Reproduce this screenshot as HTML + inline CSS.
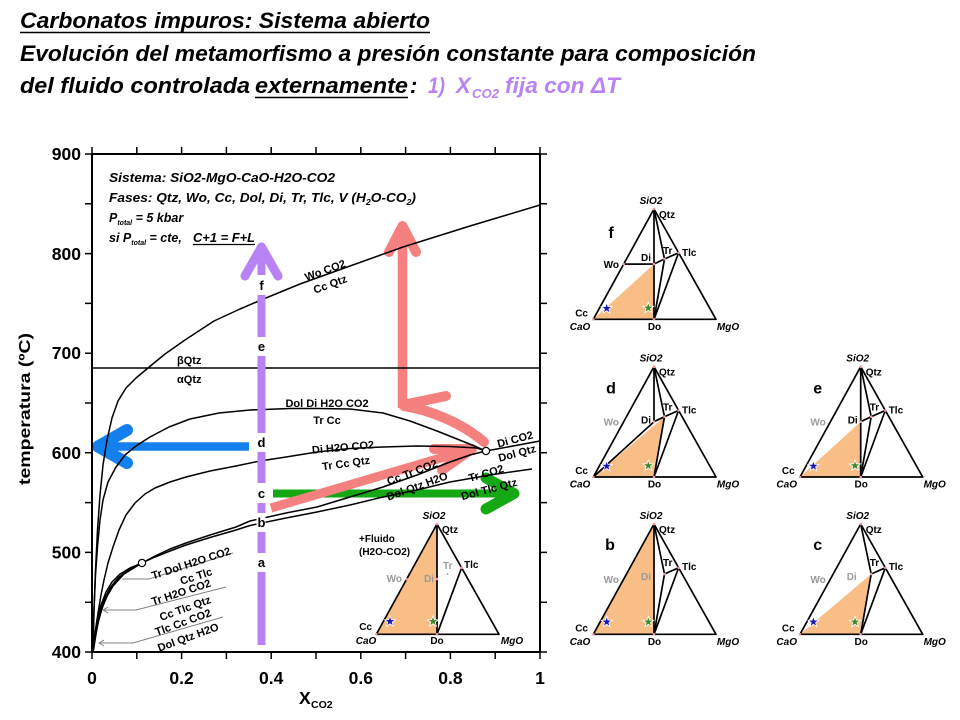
<!DOCTYPE html>
<html><head><meta charset="utf-8"><style>
html,body{margin:0;padding:0;background:#fff;}
svg{display:block;}
.t{font-family:"Liberation Sans",Arial,sans-serif;}
.lb{font:bold 11px "Liberation Sans",Arial,sans-serif;}
.tk{font:bold 17.5px "Liberation Sans",Arial,sans-serif;}
.tl{font:bold 10px "Liberation Sans",Arial,sans-serif;}
.ti{font:italic bold 10px "Liberation Sans",Arial,sans-serif;}
.gr{fill:#9a9a9a;}
.lt{font:bold 16px "Liberation Sans",Arial,sans-serif;}
.inf{font:italic bold 12.5px "Liberation Sans",Arial,sans-serif;}
.ttl{font:italic bold 22px "Liberation Sans",Arial,sans-serif;}
</style></head><body>
<svg width="960" height="720" viewBox="0 0 960 720" xmlns="http://www.w3.org/2000/svg">
<defs>
<path id="star" d="M0,-4.5 L1.06,-1.46 L4.28,-1.39 L1.71,0.56 L2.65,3.64 L0,1.8 L-2.65,3.64 L-1.71,0.56 L-4.28,-1.39 L-1.06,-1.46 Z"/>
</defs>
<rect width="960" height="720" fill="#fff"/>

<!-- Title -->
<text class="ttl" x="20" y="28" textLength="410" lengthAdjust="spacingAndGlyphs">Carbonatos impuros: Sistema abierto</text>
<line x1="20" y1="32.5" x2="430" y2="32.5" stroke="#000" stroke-width="1.6"/>
<text class="ttl" x="20" y="61" textLength="736" lengthAdjust="spacingAndGlyphs">Evolución del metamorfismo a presión constante para composición</text>
<text class="ttl" x="20" y="93" textLength="230" lengthAdjust="spacingAndGlyphs">del fluido controlada</text>
<text class="ttl" x="255" y="93" textLength="153" lengthAdjust="spacingAndGlyphs">externamente</text>
<line x1="255" y1="97.5" x2="408" y2="97.5" stroke="#000" stroke-width="1.6"/>
<text class="ttl" x="410" y="93">:</text>
<text class="ttl" x="428" y="93" fill="#B982F4" textLength="17" lengthAdjust="spacingAndGlyphs">1)</text>
<text class="ttl" x="456" y="93" fill="#B982F4">X</text>
<text class="t" x="472" y="98" fill="#B982F4" font-size="13" font-weight="bold" font-style="italic" textLength="27" lengthAdjust="spacingAndGlyphs">CO2</text>
<text class="ttl" x="505" y="93" fill="#B982F4" textLength="115" lengthAdjust="spacingAndGlyphs">fija con ΔT</text>

<!-- Arrows under curves: blue, green, pink -->
<g fill="none" stroke-linecap="round" stroke-linejoin="round">
  <line x1="98" y1="446.5" x2="249" y2="446.5" stroke="#1480EE" stroke-width="8.5" stroke-linecap="butt"/>
  <path d="M127,430 L98,446.5 L127,463" stroke="#1480EE" stroke-width="12"/>
  <line x1="273" y1="493.5" x2="510" y2="493.5" stroke="#15A815" stroke-width="8" stroke-linecap="butt"/>
  <path d="M486,478 L514,493.5 L486,509" stroke="#15A815" stroke-width="11"/>
  <line x1="271" y1="508" x2="468" y2="450" stroke="#F4807F" stroke-width="9" stroke-linecap="butt"/>
  <path d="M434,449 L472,449 L442,470" stroke="#F4807F" stroke-width="10"/>
  <line x1="402.5" y1="408" x2="402.5" y2="230" stroke="#F4807F" stroke-width="9.5" stroke-linecap="butt"/>
  <path d="M389,252 L402.5,226 L416,252" stroke="#F4807F" stroke-width="10"/>
  <path d="M403,405 L446,396" stroke="#F4807F" stroke-width="10"/>
  <path d="M404,406 C430,410 462,423 484,442" stroke="#F4807F" stroke-width="10"/>
</g>

<!-- Frame and ticks -->
<g stroke="#000" fill="none">
  <rect x="92" y="154" width="448" height="498" stroke-width="2"/>
  <line x1="92" y1="368" x2="540" y2="368" stroke-width="1.5"/>
  <g stroke-width="1.5">
    <path d="M85,652H92M85,602.2H92M85,552.4H92M85,502.6H92M85,452.8H92M85,403H92M85,353.2H92M85,303.4H92M85,253.6H92M85,203.8H92M85,154H92"/>
    <path d="M540,652H547M540,602.2H547M540,552.4H547M540,502.6H547M540,452.8H547M540,403H547M540,353.2H547M540,303.4H547M540,253.6H547M540,203.8H547M540,154H547"/>
    <path d="M92,652V659M136.8,652V659M181.6,652V659M226.4,652V659M271.2,652V659M316,652V659M360.8,652V659M405.6,652V659M450.4,652V659M495.2,652V659M540,652V659"/>
    <path d="M92,147V154M136.8,147V154M181.6,147V154M226.4,147V154M271.2,147V154M316,147V154M360.8,147V154M405.6,147V154M450.4,147V154M495.2,147V154M540,147V154"/>
  </g>
</g>
<g class="tk" text-anchor="end">
  <text x="81" y="160">900</text>
  <text x="81" y="260">800</text>
  <text x="81" y="359">700</text>
  <text x="81" y="459">600</text>
  <text x="81" y="558.5">500</text>
  <text x="81" y="658">400</text>
</g>
<g class="tk" text-anchor="middle">
  <text x="92" y="684">0</text>
  <text x="181.6" y="684">0.2</text>
  <text x="271.2" y="684">0.4</text>
  <text x="360.8" y="684">0.6</text>
  <text x="450.4" y="684">0.8</text>
  <text x="540" y="684">1</text>
</g>
<text class="t" x="299" y="704" font-size="17.5" font-weight="bold">X</text>
<text class="t" x="311" y="708" font-size="10.5" font-weight="bold">CO2</text>
<text class="t" transform="translate(30,409) rotate(-90)" text-anchor="middle" font-size="16" font-weight="bold" textLength="152" lengthAdjust="spacingAndGlyphs">temperatura (ºC)</text>

<!-- Info text -->
<text class="inf" x="109" y="182" textLength="226" lengthAdjust="spacingAndGlyphs">Sistema: SiO2-MgO-CaO-H2O-CO2</text>
<text class="inf" x="109" y="202" textLength="307" lengthAdjust="spacingAndGlyphs">Fases: Qtz, Wo, Cc, Dol, Di, Tr, Tlc, V (H<tspan font-size="8" dy="3">2</tspan><tspan dy="-3">O-CO</tspan><tspan font-size="8" dy="3">2</tspan><tspan dy="-3">)</tspan></text>
<text class="inf" x="109" y="222">P<tspan font-size="7" dy="3">total</tspan><tspan dy="-3"> = 5 kbar</tspan></text>
<text class="inf" x="109" y="242">si P<tspan font-size="7" dy="3">total</tspan><tspan dy="-3"> = cte,</tspan></text>
<text class="inf" x="193" y="242" textLength="62" lengthAdjust="spacingAndGlyphs">C+1 = F+L</text>
<line x1="193" y1="244.5" x2="255" y2="244.5" stroke="#000" stroke-width="1.2"/>

<!-- Curves -->
<g fill="none" stroke="#000" stroke-width="1.5" stroke-linejoin="round">
  <path d="M93,652 L94,610 L95.5,570 L97.5,530 L100,495 L103,465 L107,440 L112,418 L118,401 L126,388 L136,378 L148,368 L165,354 L185,340 L214,321 L240,309 L261,300 L300,284 L350,266 L403,247 L470,226 L540,205"/>
  <path d="M93,652 L94,610 L95.5,575 L97.5,547 L100,520 L103,500 L108,482 L116,467 L125,455 L136,446 L150,437 L169,427 L190,419 L219,413 L250,410 L290,408.5 L317,408.5 L350,409 L383,413 L410,421 L437,431 L457,439 L477,447 L486,451"/>
  <path d="M93,652 L95,635 L98,613 L101,595 L104,580 L108,563 L113,547 L119,530 L126,515 L135,503 L145,494 L155,488 L170,482 L186,477 L210,471 L236,466 L260,461 L286,457 L317,452 L350,448.5 L383,447 L417,446 L450,446.5 L477,448 L486,451"/>
  <path d="M486,451 L540,441"/>
  <path d="M142,563 L155,556 L170,549 L186,543 L210,535 L236,527 L250,521 L286,513 L317,507 L350,497 L383,487 L417,475 L450,462 L470,455 L486,451"/>
  <path d="M142,563 L155,557 L170,551 L186,545 L210,537.5 L236,530 L250,525.5 L286,518 L317,512 L350,505 L383,497 L417,490 L450,482 L490,475 L532,469"/>
  <path d="M142,563 L130,568 L120,574 L112,582 L106,592 L101,605 L97,620 L94.5,637 L93,652"/>
  <path d="M142,563 L128,570 L118,578 L110,588 L104,600 L99.5,614 L96,630 L94,645 L93,652"/>
  <path d="M142,563 L126,572 L115,582 L108,594 L102.5,607 L98.5,621 L95.5,636 L93.5,650"/>
  <path d="M142,563 L124,574 L113,586 L106,598 L101,611 L97.5,625 L95,640 L93,652"/>
</g>
<g fill="none" stroke="#808080" stroke-width="1">
  <path d="M122,579 L149,579 L233,553"/>
  <path d="M103,610 L136,610 L226,587"/>
  <path d="M108,607 L103,610 L108,613"/>
  <path d="M99,643 L133,643 L223,617"/>
  <path d="M104,640 L99,643 L104,646"/>
</g>
<circle cx="486" cy="451" r="3.6" fill="#fff" stroke="#000" stroke-width="1.2"/>
<circle cx="142" cy="563" r="3.6" fill="#fff" stroke="#000" stroke-width="1.2"/>

<!-- Curve labels -->
<g class="lb" text-anchor="middle">
  <text transform="translate(325,270) rotate(-20)" y="4">Wo CO2</text>
  <text transform="translate(330,284) rotate(-20)" y="4">Cc Qtz</text>
  <text x="327" y="407">Dol Di H2O CO2</text>
  <text x="327" y="424">Tr Cc</text>
  <text transform="translate(343,447) rotate(-5)" y="4">Di H2O CO2</text>
  <text transform="translate(346,463) rotate(-8)" y="4">Tr Cc Qtz</text>
  <text transform="translate(412,472) rotate(-21)" y="4">Cc Tr CO2</text>
  <text transform="translate(417,486) rotate(-20)" y="4">Dol Qtz H2O</text>
  <text transform="translate(486,473) rotate(-16)" y="4">Tr CO2</text>
  <text transform="translate(489,489) rotate(-15)" y="4">Dol Tlc Qtz</text>
  <text transform="translate(515,439) rotate(-15)" y="4">Di CO2</text>
  <text transform="translate(517,453) rotate(-15)" y="4">Dol Qtz</text>
  <text transform="translate(191,563) rotate(-18)" y="4">Tr Dol H2O CO2</text>
  <text transform="translate(196,576) rotate(-18)" y="4">Cc Tlc</text>
  <text transform="translate(181,592) rotate(-18)" y="4">Tr H2O CO2</text>
  <text transform="translate(185,608) rotate(-20)" y="4">Cc Tlc Qtz</text>
  <text transform="translate(183,622) rotate(-20)" y="4">Tlc Cc CO2</text>
  <text transform="translate(188,637) rotate(-20)" y="4">Dol Qtz H2O</text>
</g>
<text class="lb" x="177" y="364">βQtz</text>
<text class="lb" x="177" y="383">αQtz</text>

<!-- Purple arrow on top -->
<g fill="none" stroke="#B982F4" stroke-linecap="round" stroke-linejoin="round">
  <line x1="261.5" y1="645" x2="261.5" y2="252" stroke-width="8" stroke-linecap="butt"/>
  <path d="M245,276 L261.5,247 L278,276" stroke-width="9"/>
</g>
<g fill="#fff">
  <rect x="257" y="275" width="9" height="20"/>
  <rect x="257" y="337" width="9" height="19"/>
  <rect x="256.5" y="433" width="9" height="19"/>
  <rect x="256.5" y="483" width="9" height="20"/>
  <rect x="256.5" y="513" width="9" height="19"/>
  <rect x="256.5" y="553" width="9" height="19"/>
</g>
<g class="t" font-size="13" font-weight="bold" text-anchor="middle">
  <text x="261.5" y="290">f</text>
  <text x="261.5" y="351">e</text>
  <text x="261.5" y="447">d</text>
  <text x="261.5" y="498">c</text>
  <text x="261.5" y="527">b</text>
  <text x="261.5" y="567">a</text>
</g>

<!-- Inset triangle in chart -->
<g transform="translate(437,524)">
  <polygon points="-60.7,110.3 0,0 0,110.3" fill="#F8BE86"/>
  <g stroke="#000" stroke-width="1.7" fill="none" stroke-linejoin="round">
    <path d="M-60.7,110.3 L0,0 L62,110.3 Z"/>
    <path d="M0,0 L0,110.3 L24.6,43.8"/>
  </g>
  <g fill="#f29a9a"><circle cx="0" cy="0" r="1.4"/><circle cx="-30.35" cy="55.15" r="1.3"/><circle cx="0" cy="55" r="1.3"/><circle cx="24.6" cy="43.8" r="1.3"/><circle cx="-60.7" cy="110.3" r="1.3"/><circle cx="0" cy="110.3" r="1.3"/></g>
  <circle cx="10.5" cy="50" r="0.9" fill="#999"/>
  <text class="ti" x="-3" y="-5" text-anchor="middle">SiO2</text>
  <text class="tl" x="5" y="9">Qtz</text>
  <text class="tl" x="-78" y="18">+Fluido</text>
  <text class="tl" x="-78" y="31">(H2O-CO2)</text>
  <text class="tl gr" x="-35" y="58" text-anchor="end">Wo</text>
  <text class="tl gr" x="-3" y="58" text-anchor="end">Di</text>
  <text class="tl gr" x="6" y="45">Tr</text>
  <text class="tl" x="27" y="44">Tlc</text>
  <text class="tl" x="-65" y="106" text-anchor="end">Cc</text>
  <text class="ti" x="-71" y="120" text-anchor="middle">CaO</text>
  <text class="tl" x="0" y="120" text-anchor="middle">Do</text>
  <text class="ti" x="75" y="120" text-anchor="middle">MgO</text>
  <use href="#star" x="-47" y="97.5" fill="#1818B8" stroke="#fff" stroke-width="1.6" paint-order="stroke"/>
  <use href="#star" x="-4" y="97.5" fill="#3D8A2A" stroke="#fff" stroke-width="1.6" paint-order="stroke"/>
</g>

<!-- Triangle f -->
<g transform="translate(654,209)">
  <polygon points="-60.7,110.3 0,55 0,110.3" fill="#F8BE86"/>
  <g stroke="#000" stroke-width="1.7" fill="none" stroke-linejoin="round">
    <path d="M-60.7,110.3 L0,0 L62,110.3 Z"/>
    <path d="M0,0 L0,110.3"/>
    <path d="M-30.35,55.15 L0,55 L10.5,50 L24.6,43.8"/>
    <path d="M0,0 L10.5,50 L0,110.3 L24.6,43.8"/>
  </g>
  <g fill="#f29a9a"><circle cx="0" cy="0" r="1.4"/><circle cx="-30.35" cy="55.15" r="1.3"/><circle cx="0" cy="55" r="1.3"/><circle cx="10.5" cy="50" r="1.3"/><circle cx="24.6" cy="43.8" r="1.3"/><circle cx="-60.7" cy="110.3" r="1.3"/><circle cx="0" cy="110.3" r="1.3"/></g>
  <text class="ti" x="-3" y="-5" text-anchor="middle">SiO2</text>
  <text class="tl" x="5" y="9">Qtz</text>
  <text class="lt" x="-43" y="29" text-anchor="middle">f</text>
  <text class="tl" x="-35" y="59" text-anchor="end">Wo</text>
  <text class="tl" x="-3" y="52" text-anchor="end">Di</text>
  <text class="tl" x="9" y="45">Tr</text>
  <text class="tl" x="28" y="47">Tlc</text>
  <text class="tl" x="-66" y="107.5" text-anchor="end">Cc</text>
  <text class="ti" x="-74" y="121" text-anchor="middle">CaO</text>
  <text class="tl" x="0.5" y="121" text-anchor="middle">Do</text>
  <text class="ti" x="74" y="121" text-anchor="middle">MgO</text>
  <use href="#star" x="-47.3" y="99.5" fill="#1818B8" stroke="#fff" stroke-width="1.6" paint-order="stroke"/>
  <use href="#star" x="-5.7" y="99" fill="#3D8A2A" stroke="#fff" stroke-width="1.6" paint-order="stroke"/>
</g>

<!-- Triangle d -->
<g transform="translate(654,366.7)">
  <polygon points="-60.7,110.3 10.5,50 0,110.3" fill="#F8BE86"/>
  <g stroke="#000" stroke-width="1.7" fill="none" stroke-linejoin="round">
    <path d="M-60.7,110.3 L0,0 L62,110.3 Z"/>
    <path d="M0,0 L0,55"/>
    <path d="M-60.7,110.3 L0,55 L10.5,50 L24.6,43.8"/>
    <path d="M0,0 L10.5,50 L0,110.3 L24.6,43.8"/>
  </g>
  <g fill="#f29a9a"><circle cx="0" cy="0" r="1.4"/><circle cx="0" cy="55" r="1.3"/><circle cx="10.5" cy="50" r="1.3"/><circle cx="24.6" cy="43.8" r="1.3"/><circle cx="-60.7" cy="110.3" r="1.3"/><circle cx="0" cy="110.3" r="1.3"/></g>
  <text class="ti" x="-3" y="-5" text-anchor="middle">SiO2</text>
  <text class="tl" x="5" y="9">Qtz</text>
  <text class="lt" x="-43" y="27" text-anchor="middle">d</text>
  <text class="tl gr" x="-35" y="59" text-anchor="end">Wo</text>
  <text class="tl" x="-3" y="57" text-anchor="end">Di</text>
  <text class="tl" x="9" y="44">Tr</text>
  <text class="tl" x="28" y="47">Tlc</text>
  <text class="tl" x="-66" y="107.5" text-anchor="end">Cc</text>
  <text class="ti" x="-74" y="121" text-anchor="middle">CaO</text>
  <text class="tl" x="0.5" y="121" text-anchor="middle">Do</text>
  <text class="ti" x="74" y="121" text-anchor="middle">MgO</text>
  <use href="#star" x="-47.3" y="99.5" fill="#1818B8" stroke="#fff" stroke-width="1.6" paint-order="stroke"/>
  <use href="#star" x="-5.7" y="99" fill="#3D8A2A" stroke="#fff" stroke-width="1.6" paint-order="stroke"/>
</g>

<!-- Triangle e -->
<g transform="translate(860.7,366.7)">
  <polygon points="-60.7,110.3 0,55 0,110.3" fill="#F8BE86"/>
  <g stroke="#000" stroke-width="1.7" fill="none" stroke-linejoin="round">
    <path d="M-60.7,110.3 L0,0 L62,110.3 Z"/>
    <path d="M0,0 L0,110.3"/>
    <path d="M0,55 L10.5,50 L24.6,43.8"/>
    <path d="M0,0 L10.5,50 L0,110.3 L24.6,43.8"/>
  </g>
  <g fill="#f29a9a"><circle cx="0" cy="0" r="1.4"/><circle cx="0" cy="55" r="1.3"/><circle cx="10.5" cy="50" r="1.3"/><circle cx="24.6" cy="43.8" r="1.3"/><circle cx="-60.7" cy="110.3" r="1.3"/><circle cx="0" cy="110.3" r="1.3"/></g>
  <text class="ti" x="-3" y="-5" text-anchor="middle">SiO2</text>
  <text class="tl" x="5" y="9">Qtz</text>
  <text class="lt" x="-43" y="27" text-anchor="middle">e</text>
  <text class="tl gr" x="-35" y="59" text-anchor="end">Wo</text>
  <text class="tl" x="-3" y="57" text-anchor="end">Di</text>
  <text class="tl" x="9" y="44">Tr</text>
  <text class="tl" x="28" y="47">Tlc</text>
  <text class="tl" x="-66" y="107.5" text-anchor="end">Cc</text>
  <text class="ti" x="-74" y="121" text-anchor="middle">CaO</text>
  <text class="tl" x="0.5" y="121" text-anchor="middle">Do</text>
  <text class="ti" x="74" y="121" text-anchor="middle">MgO</text>
  <use href="#star" x="-47.3" y="99.5" fill="#1818B8" stroke="#fff" stroke-width="1.6" paint-order="stroke"/>
  <use href="#star" x="-5.7" y="99" fill="#3D8A2A" stroke="#fff" stroke-width="1.6" paint-order="stroke"/>
</g>

<!-- Triangle b -->
<g transform="translate(654,524)">
  <polygon points="-60.7,110.3 0,0 0,110.3" fill="#F8BE86"/>
  <g stroke="#000" stroke-width="1.7" fill="none" stroke-linejoin="round">
    <path d="M-60.7,110.3 L0,0 L62,110.3 Z"/>
    <path d="M0,0 L0,110.3"/>
    <path d="M10.5,50 L24.6,43.8"/>
    <path d="M0,0 L10.5,50 L0,110.3 L24.6,43.8"/>
  </g>
  <g fill="#f29a9a"><circle cx="0" cy="0" r="1.4"/><circle cx="10.5" cy="50" r="1.3"/><circle cx="24.6" cy="43.8" r="1.3"/><circle cx="-60.7" cy="110.3" r="1.3"/><circle cx="0" cy="110.3" r="1.3"/></g>
  <text class="ti" x="-3" y="-5" text-anchor="middle">SiO2</text>
  <text class="tl" x="5" y="9">Qtz</text>
  <text class="lt" x="-44" y="26" text-anchor="middle">b</text>
  <text class="tl gr" x="-35" y="59" text-anchor="end">Wo</text>
  <text class="tl gr" x="-3" y="56" text-anchor="end">Di</text>
  <text class="tl" x="9" y="42">Tr</text>
  <text class="tl" x="28" y="46">Tlc</text>
  <text class="tl" x="-66" y="107.5" text-anchor="end">Cc</text>
  <text class="ti" x="-74" y="121" text-anchor="middle">CaO</text>
  <text class="tl" x="0.5" y="121" text-anchor="middle">Do</text>
  <text class="ti" x="74" y="121" text-anchor="middle">MgO</text>
  <use href="#star" x="-47.3" y="98" fill="#1818B8" stroke="#fff" stroke-width="1.6" paint-order="stroke"/>
  <use href="#star" x="-5.7" y="98" fill="#3D8A2A" stroke="#fff" stroke-width="1.6" paint-order="stroke"/>
</g>

<!-- Triangle c -->
<g transform="translate(860.7,524)">
  <polygon points="-60.7,110.3 10.5,50 0,110.3" fill="#F8BE86"/>
  <g stroke="#000" stroke-width="1.7" fill="none" stroke-linejoin="round">
    <path d="M-60.7,110.3 L0,0 L62,110.3 Z"/>
    <path d="M10.5,50 L24.6,43.8"/>
    <path d="M0,0 L10.5,50 L0,110.3 L24.6,43.8"/>
  </g>
  <g fill="#f29a9a"><circle cx="0" cy="0" r="1.4"/><circle cx="10.5" cy="50" r="1.3"/><circle cx="24.6" cy="43.8" r="1.3"/><circle cx="-60.7" cy="110.3" r="1.3"/><circle cx="0" cy="110.3" r="1.3"/></g>
  <text class="ti" x="-3" y="-5" text-anchor="middle">SiO2</text>
  <text class="tl" x="5" y="9">Qtz</text>
  <text class="lt" x="-43" y="26" text-anchor="middle">c</text>
  <text class="tl gr" x="-35" y="59" text-anchor="end">Wo</text>
  <text class="tl gr" x="-4" y="56" text-anchor="end">Di</text>
  <text class="tl" x="9" y="42">Tr</text>
  <text class="tl" x="28" y="46">Tlc</text>
  <text class="tl" x="-66" y="107.5" text-anchor="end">Cc</text>
  <text class="ti" x="-74" y="121" text-anchor="middle">CaO</text>
  <text class="tl" x="0.5" y="121" text-anchor="middle">Do</text>
  <text class="ti" x="74" y="121" text-anchor="middle">MgO</text>
  <use href="#star" x="-47.3" y="98" fill="#1818B8" stroke="#fff" stroke-width="1.6" paint-order="stroke"/>
  <use href="#star" x="-5.7" y="98" fill="#3D8A2A" stroke="#fff" stroke-width="1.6" paint-order="stroke"/>
</g>
</svg>
</body></html>
